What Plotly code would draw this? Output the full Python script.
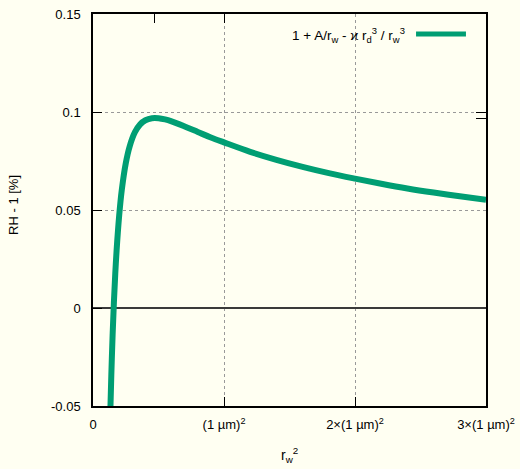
import plotly.graph_objects as go

# r_w^2 in (1 µm)^2 and RH-1 in %
rw2 = [0.132, 0.14, 0.15, 0.16, 0.17, 0.18, 0.20, 0.22, 0.25, 0.28, 0.32, 0.36, 0.40,
       0.45, 0.50, 0.55, 0.60, 0.70, 0.80, 0.90, 1.0, 1.2, 1.4, 1.6, 1.8, 2.0, 2.2,
       2.4, 2.6, 2.8, 3.0]
rh1 = [-0.0536, -0.0338, -0.0132, 0.0036, 0.0176, 0.0292, 0.0473, 0.0604, 0.0738,
       0.0825, 0.0897, 0.0937, 0.0958, 0.0968, 0.0968, 0.0962, 0.0952, 0.0926, 0.0898,
       0.0870, 0.0845, 0.0797, 0.0756, 0.0720, 0.0688, 0.0660, 0.0634, 0.0610, 0.0589,
       0.0570, 0.0552]

x_tickvals = [0, 1, 2, 3]
x_ticktext = ["0", "(1 µm)<sup>2</sup>", "2×(1 µm)<sup>2</sup>", "3×(1 µm)<sup>2</sup>"]
y_tickvals = [-0.05, 0, 0.05, 0.1, 0.15]
y_ticktext = ["-0.05", "0", "0.05", "0.1", "0.15"]
top_ticks = [0.473, 1.0]
right_ticks = [0.1, 0.0965]

legend_label = "1 + A/r<sub>w</sub> - ϰ r<sub>d</sub><sup>3</sup> / r<sub>w</sub><sup>3</sup>"
x_title = "r<sub>w</sub><sup>2</sup>"
y_title = "RH - 1 [%]"

bg = "#fffff2"
font = dict(family="Liberation Sans, Arial, sans-serif", size=13, color="#000000")

fig = go.Figure()
fig.add_trace(go.Scatter(x=rw2, y=rh1, mode="lines", line=dict(color="#009e73", width=6, shape="spline"),
                         showlegend=False, hoverinfo="skip"))
# invisible trace for secondary axes
fig.add_trace(go.Scatter(x=[0], y=[0], xaxis="x2", yaxis="y2", mode="markers",
                         marker=dict(opacity=0), showlegend=False, hoverinfo="skip"))

fig.update_layout(
    width=520, height=469,
    margin=dict(l=93, r=34, t=14, b=63),
    paper_bgcolor=bg, plot_bgcolor=bg,
    font=font,
    xaxis=dict(range=[0, 3], tickvals=x_tickvals, ticktext=x_ticktext, ticks="inside", ticklen=9,
               tickcolor="#000", showline=True, linecolor="#000", linewidth=1.5, mirror=False,
               showgrid=True, gridcolor="#999999", griddash="dot", gridwidth=1, zeroline=False,
               automargin=False, ticklabelstandoff=6, tickfont=dict(size=13)),
    yaxis=dict(range=[-0.05, 0.15], tickvals=y_tickvals, ticktext=y_ticktext, ticks="inside", ticklen=9,
               tickcolor="#000", showline=True, linecolor="#000", linewidth=1.5, mirror=False,
               showgrid=True, gridcolor="#999999", griddash="dot", gridwidth=1,
               zeroline=True, zerolinecolor="#3a3a3a", zerolinewidth=1.8,
               automargin=False, ticklabelstandoff=8),
    xaxis2=dict(overlaying="x", side="top", range=[0, 3], tickvals=top_ticks, showticklabels=False,
                ticks="inside", ticklen=9, tickcolor="#000", showline=True, linecolor="#000",
                linewidth=1.5, showgrid=False, zeroline=False, automargin=False),
    yaxis2=dict(overlaying="y", side="right", range=[-0.05, 0.15], tickvals=right_ticks,
                showticklabels=False, ticks="inside", ticklen=10, tickcolor="#000", showline=True,
                linecolor="#000", linewidth=1.5, showgrid=False, zeroline=False, automargin=False),
    annotations=[
        dict(text=legend_label, xref="paper", yref="paper", x=0.799, y=0.946,
             xanchor="right", yanchor="middle", showarrow=False, font=dict(size=13.5)),
        dict(text=y_title, xref="paper", yref="paper", x=-0.201, y=0.513, textangle=-90,
             xanchor="center", yanchor="middle", showarrow=False, font=dict(size=13)),
        dict(text=x_title, xref="paper", yref="paper", x=0.501, y=-0.125,
             xanchor="center", yanchor="middle", showarrow=False, font=dict(size=14)),
    ],
    shapes=[dict(type="line", xref="paper", yref="paper", x0=0.822, x1=0.949, y0=0.949, y1=0.949,
                 line=dict(color="#009e73", width=5))],
)

fig.write_html("out.html", config={"displayModeBar": False},
               post_script="document.body.style.margin='0';document.body.style.background='%s';" % bg)
